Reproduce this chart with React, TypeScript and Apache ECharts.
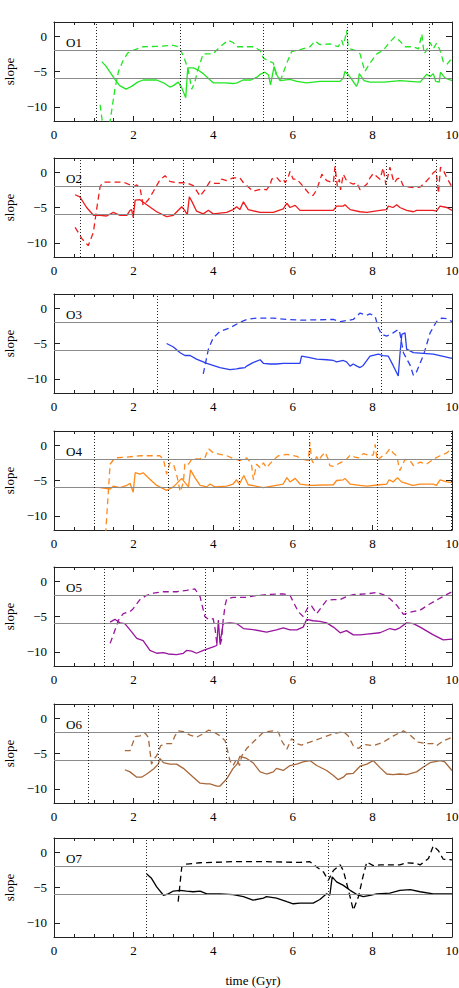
import React, { useEffect, useRef } from "react";
import * as echarts from "echarts";

type P = [number, number];

const panelNames = ["O1", "O2", "O3", "O4", "O5", "O6", "O7"];
const panelColors = ["#22e622", "#ee1c1c", "#2a3ff0", "#ff8a1a", "#99159e", "#a8683a", "#000000"];
const yTickValues = [-10, -5, 0];
const refLevels = [-2, -6];

const o1Solid: P[] = [[1.2,-3.6],[1.3,-4.2],[1.42,-5.2],[1.53,-6.1],[1.65,-7.0],[1.81,-7.5],[1.95,-7.1],[2.1,-6.5],[2.24,-6.2],[2.58,-6.2],[2.75,-6.6],[2.91,-7.2],[3.0,-7.0],[3.12,-6.5],[3.2,-7.2],[3.31,-8.7],[3.36,-4.5],[3.5,-4.5],[3.62,-4.8],[3.75,-5.3],[3.88,-6.0],[4.0,-6.6],[4.3,-6.6],[4.5,-6.7],[4.6,-6.6],[4.75,-6.2],[4.95,-6.2],[5.1,-5.8],[5.18,-5.4],[5.3,-5.1],[5.39,-5.5],[5.44,-6.9],[5.53,-4.3],[5.6,-5.5],[5.68,-6.3],[5.93,-6.1],[6.1,-6.4],[6.35,-6.6],[6.68,-6.4],[7.19,-6.4],[7.27,-5.9],[7.31,-5.0],[7.4,-5.5],[7.48,-6.1],[7.6,-7.1],[7.64,-6.6],[7.67,-5.3],[7.79,-6.3],[7.94,-6.5],[8.3,-6.5],[8.69,-6.3],[9.2,-6.5],[9.36,-5.4],[9.45,-5.7],[9.53,-5.3],[9.59,-6.4],[9.68,-6.5],[9.71,-5.1],[9.82,-5.9],[10,-6.3]];
const o1Dashed: P[] = [[1.16,-9.7],[1.3,-16],[1.41,-12],[1.53,-7.5],[1.62,-5.0],[1.74,-3.4],[1.85,-2.4],[1.99,-2.0],[2.24,-1.5],[2.58,-1.45],[3.0,-1.3],[3.12,-1.5],[3.2,-2.2],[3.29,-3.4],[3.37,-4.7],[3.46,-7.5],[3.54,-6.5],[3.6,-5.0],[3.67,-3.8],[3.75,-2.5],[4.0,-2.5],[4.17,-1.5],[4.38,-0.6],[4.5,-0.9],[4.59,-1.5],[5.0,-1.5],[5.18,-2.0],[5.26,-3.1],[5.43,-3.6],[5.51,-3.8],[5.59,-5.6],[5.7,-6.1],[5.85,-3.8],[5.97,-2.2],[6.18,-1.9],[6.43,-1.5],[6.56,-0.7],[6.68,-1.2],[6.93,-1.1],[7.14,-1.5],[7.23,-0.6],[7.27,-1.3],[7.31,-0.4],[7.35,0.8],[7.39,-1.3],[7.44,-1.8],[7.56,-2.0],[7.69,-2.5],[7.81,-5.0],[7.94,-3.8],[8.11,-2.5],[8.27,-2.0],[8.4,-1.1],[8.56,-0.1],[8.69,-0.7],[8.82,-1.5],[9.03,-1.5],[9.16,-1.8],[9.24,0.3],[9.3,-2.5],[9.36,-2.0],[9.45,-0.9],[9.53,-1.8],[9.61,-1.0],[9.7,-2.0],[9.78,-3.6],[9.87,-4.0],[10,-3.1]];
const o1Events = [1.07, 3.17, 5.27, 7.36, 9.42];

const o2Solid: P[] = [[0.53,-3.2],[0.65,-3.5],[0.82,-5.0],[0.99,-6.1],[1.16,-6.1],[1.32,-6.2],[1.49,-5.7],[1.66,-6.1],[1.83,-6.1],[1.91,-5.4],[1.95,-5.3],[1.99,-6.4],[2.04,-3.95],[2.16,-3.9],[2.33,-4.6],[2.58,-5.6],[2.83,-6.3],[3.0,-6.1],[3.21,-4.9],[3.27,-5.3],[3.35,-6.0],[3.4,-3.5],[3.46,-4.1],[3.58,-5.5],[3.75,-5.9],[3.88,-5.4],[4.0,-5.9],[4.34,-5.7],[4.5,-5.3],[4.59,-4.9],[4.67,-5.3],[4.76,-4.2],[4.88,-5.3],[5.18,-5.7],[5.51,-5.7],[5.76,-5.2],[5.85,-4.4],[5.93,-5.0],[6.06,-4.7],[6.18,-5.4],[7.02,-5.4],[7.1,-4.8],[7.27,-4.8],[7.31,-4.6],[7.44,-5.3],[7.69,-5.6],[7.86,-5.7],[8.19,-5.4],[8.36,-5.3],[8.4,-4.8],[8.52,-5.0],[8.61,-4.6],[8.69,-5.0],[8.86,-5.4],[9.03,-5.6],[9.11,-5.4],[9.53,-5.4],[9.61,-5.5],[9.7,-4.8],[9.87,-5.0],[10,-5.4]];
const o2Dashed: P[] = [[0.53,-7.8],[0.7,-9.4],[0.86,-10.4],[0.99,-8.5],[1.07,-5.3],[1.16,-2.0],[1.24,-1.4],[1.49,-1.4],[1.74,-1.4],[1.91,-1.8],[1.99,-2.1],[2.08,-1.8],[2.16,-2.2],[2.24,-4.7],[2.37,-3.9],[2.5,-2.7],[2.66,-1.1],[2.79,-0.5],[2.91,-1.3],[3.08,-1.5],[3.33,-1.5],[3.5,-1.9],[3.67,-3.4],[3.79,-2.5],[3.92,-1.3],[4.04,-1.6],[4.17,-1.6],[4.21,-1.0],[4.34,-1.2],[4.5,-0.8],[4.67,-0.8],[4.76,-1.5],[5.0,-2.7],[5.22,-2.4],[5.34,-2.5],[5.43,-1.8],[5.47,-1.0],[5.59,-0.7],[5.68,-1.3],[5.76,-1.0],[5.81,-1.5],[5.89,-0.6],[5.93,0.1],[6.01,-1.0],[6.1,-1.0],[6.26,-2.0],[6.43,-3.2],[6.51,-3.3],[6.6,-2.5],[6.73,-0.3],[6.85,-1.2],[7.02,-1.5],[7.06,0.8],[7.12,-2.0],[7.17,-1.0],[7.2,-2.5],[7.27,-0.3],[7.35,-1.2],[7.44,-1.5],[7.52,-1.7],[7.61,-1.5],[7.69,-2.5],[7.86,-1.7],[7.94,-0.8],[8.02,-0.2],[8.19,-1.0],[8.27,0.6],[8.34,-1.8],[8.4,-0.3],[8.44,0.7],[8.52,-1.0],[8.56,-1.5],[8.61,-1.0],[8.69,-0.8],[8.78,-2.0],[9.03,-2.2],[9.2,-2.1],[9.32,-1.5],[9.45,-0.7],[9.53,-0.1],[9.6,0.2],[9.66,-3.0],[9.71,0.7],[9.78,0.3],[9.87,-0.8],[10,-2.1]];
const o2Events = [0.66, 1.98, 3.26, 4.5, 5.81, 7.07, 8.36, 9.61];

const o3Solid: P[] = [[2.83,-5.0],[3.0,-5.5],[3.17,-6.3],[3.29,-6.7],[3.42,-6.7],[3.58,-7.2],[3.84,-7.8],[4.17,-8.4],[4.42,-8.7],[4.59,-8.6],[4.67,-8.5],[4.8,-8.4],[4.84,-8.2],[5.0,-7.7],[5.18,-7.3],[5.26,-7.8],[5.43,-7.9],[5.59,-7.9],[5.76,-7.8],[5.93,-7.8],[6.18,-7.8],[6.22,-6.8],[6.43,-7.0],[6.6,-7.2],[6.85,-7.3],[7.02,-7.4],[7.1,-7.6],[7.27,-7.4],[7.35,-7.6],[7.44,-8.2],[7.52,-7.9],[7.61,-8.2],[7.69,-8.4],[7.77,-8.1],[7.94,-6.8],[8.15,-6.5],[8.27,-6.7],[8.4,-6.8],[8.52,-8.1],[8.65,-9.6],[8.69,-6.7],[8.74,-3.7],[8.82,-3.5],[8.86,-5.8],[9.03,-6.3],[9.53,-6.5],[10,-7.1]];
const o3Dashed: P[] = [[3.75,-9.3],[3.88,-5.8],[4.0,-4.2],[4.17,-3.3],[4.42,-2.8],[4.67,-2.0],[4.84,-1.6],[5.09,-1.4],[5.51,-1.4],[5.85,-1.6],[6.18,-1.7],[7.02,-1.6],[7.19,-1.9],[7.52,-1.6],[7.69,-0.7],[7.86,-1.0],[7.94,-0.8],[8.07,-1.2],[8.15,-2.8],[8.23,-3.7],[8.36,-3.95],[8.52,-3.5],[8.65,-3.0],[8.69,-3.5],[8.78,-6.3],[8.95,-8.1],[9.03,-9.5],[9.11,-9.0],[9.28,-6.7],[9.45,-3.5],[9.61,-1.9],[9.74,-1.4],[9.87,-1.5],[10,-1.9]];
const o3Events = [2.6, 8.21];

const o4Solid: P[] = [[1.16,-6.0],[1.41,-6.2],[1.49,-5.8],[1.66,-6.0],[1.83,-5.7],[1.91,-5.4],[1.99,-6.65],[2.04,-3.9],[2.16,-4.1],[2.24,-3.9],[2.37,-4.6],[2.58,-5.7],[2.83,-6.4],[3.0,-5.9],[3.21,-4.7],[3.29,-5.3],[3.38,-5.9],[3.43,-3.5],[3.54,-4.6],[3.67,-5.7],[3.84,-5.9],[3.92,-5.5],[4.04,-5.9],[4.34,-5.8],[4.5,-5.5],[4.59,-4.9],[4.66,-5.5],[4.77,-4.3],[4.88,-5.6],[5.26,-6.0],[5.76,-5.5],[5.85,-4.6],[5.93,-5.2],[6.06,-4.7],[6.18,-5.5],[6.43,-5.7],[7.02,-5.6],[7.1,-5.0],[7.27,-4.9],[7.31,-4.7],[7.44,-5.5],[7.69,-5.7],[7.86,-5.8],[8.19,-5.6],[8.36,-5.5],[8.42,-4.9],[8.52,-5.2],[8.63,-4.6],[8.73,-5.2],[8.95,-5.6],[9.03,-5.7],[9.2,-5.5],[9.53,-5.5],[9.61,-5.7],[9.7,-4.9],[9.87,-5.2],[10,-5.3]];
const o4Dashed: P[] = [[1.28,-14],[1.41,-2.7],[1.53,-1.8],[1.83,-1.7],[2.16,-1.5],[2.66,-1.5],[2.75,-2.0],[2.83,-4.1],[2.91,-2.5],[3.0,-2.7],[3.08,-4.1],[3.17,-6.6],[3.25,-5.3],[3.29,-2.5],[3.38,-2.7],[3.46,-2.0],[3.67,-1.9],[3.79,-1.8],[3.88,-0.5],[4.0,-1.1],[4.17,-1.3],[4.34,-1.5],[4.5,-1.9],[4.67,-2.2],[4.84,-1.8],[4.96,-2.6],[5.01,-4.9],[5.09,-2.7],[5.18,-3.2],[5.26,-2.5],[5.34,-3.2],[5.51,-2.1],[5.64,-1.5],[5.85,-1.3],[6.1,-1.6],[6.26,-2.0],[6.39,-2.2],[6.43,0.4],[6.47,-2.0],[6.51,-2.5],[6.6,-1.6],[6.64,-2.2],[6.73,-1.5],[6.81,-1.0],[6.89,-2.0],[6.93,-2.9],[7.02,-3.0],[7.19,-2.5],[7.35,-2.0],[7.44,-1.4],[7.56,-1.7],[7.65,-1.8],[7.77,-1.2],[7.9,-1.4],[8.02,-1.4],[8.07,0.1],[8.12,-2.2],[8.19,-1.8],[8.36,-1.1],[8.44,-0.5],[8.52,-1.1],[8.61,-1.5],[8.69,-3.6],[8.82,-2.0],[8.95,-2.2],[9.03,-2.9],[9.2,-2.4],[9.36,-2.7],[9.53,-2.0],[9.7,-1.5],[9.87,-1.1],[10,-0.4]];
const o4Events = [1.01, 2.86, 4.66, 6.42, 8.11, 9.97];

const o5Solid: P[] = [[1.41,-5.8],[1.53,-5.4],[1.66,-5.9],[1.78,-6.0],[1.91,-6.9],[2.08,-8.1],[2.24,-8.4],[2.41,-9.8],[2.58,-10.2],[2.75,-10.1],[2.87,-10.3],[3.08,-10.4],[3.25,-10.2],[3.33,-9.8],[3.46,-9.9],[3.58,-10.2],[3.75,-9.8],[4.0,-9.3],[4.09,-9.1],[4.13,-5.5],[4.17,-8.8],[4.25,-6.0],[4.42,-5.9],[4.59,-6.0],[4.76,-6.7],[5.0,-6.85],[5.34,-7.2],[5.59,-6.9],[5.76,-6.6],[5.93,-6.9],[6.1,-6.9],[6.26,-6.5],[6.35,-5.4],[6.51,-5.6],[6.68,-5.7],[6.85,-5.9],[7.02,-6.5],[7.19,-7.3],[7.35,-7.0],[7.52,-7.6],[7.69,-7.6],[7.86,-7.5],[8.19,-7.3],[8.44,-6.7],[8.57,-6.9],[8.69,-6.6],[8.86,-5.9],[9.03,-6.0],[9.2,-6.5],[9.53,-7.6],[9.78,-8.3],[10,-8.2]];
const o5Dashed: P[] = [[1.41,-8.8],[1.49,-7.6],[1.62,-5.5],[1.74,-4.6],[1.91,-4.3],[1.99,-3.9],[2.16,-2.6],[2.33,-2.0],[2.5,-1.7],[2.75,-1.5],[3.08,-1.5],[3.33,-1.3],[3.54,-1.1],[3.67,-2.2],[3.79,-5.0],[3.88,-5.4],[4.0,-5.3],[4.05,-6.85],[4.09,-8.8],[4.17,-9.0],[4.21,-8.3],[4.25,-5.5],[4.3,-3.4],[4.34,-2.5],[4.5,-2.3],[4.84,-2.3],[5.0,-2.1],[5.34,-1.9],[5.76,-1.8],[5.93,-2.0],[6.01,-2.9],[6.14,-4.35],[6.26,-5.0],[6.39,-3.6],[6.47,-3.5],[6.6,-4.6],[6.73,-3.6],[6.85,-2.7],[7.02,-2.6],[7.19,-2.6],[7.35,-2.2],[7.52,-1.9],[7.86,-1.8],[8.11,-1.6],[8.27,-1.9],[8.44,-2.5],[8.61,-3.4],[8.78,-4.7],[8.95,-4.4],[9.2,-4.1],[9.45,-3.2],[9.7,-2.4],[10,-1.5]];
const o5Events = [1.27, 3.79, 6.37, 8.82];

const o6Solid: P[] = [[1.78,-7.3],[1.91,-7.6],[2.08,-8.35],[2.2,-8.35],[2.33,-7.9],[2.5,-7.2],[2.62,-6.5],[2.66,-5.7],[2.75,-6.3],[2.91,-6.5],[3.08,-6.5],[3.25,-7.1],[3.5,-8.35],[3.67,-9.2],[3.84,-9.3],[3.92,-9.3],[4.09,-9.6],[4.17,-9.6],[4.34,-8.6],[4.5,-7.1],[4.6,-6.5],[4.67,-5.4],[4.84,-5.7],[5.0,-6.3],[5.18,-7.6],[5.34,-7.9],[5.51,-7.6],[5.59,-7.1],[5.76,-7.4],[5.93,-6.7],[6.1,-6.5],[6.26,-6.2],[6.43,-6.0],[6.6,-6.7],[6.85,-7.4],[7.02,-8.1],[7.14,-8.7],[7.27,-8.35],[7.35,-7.9],[7.52,-7.8],[7.69,-6.8],[7.86,-6.5],[8.02,-6.0],[8.19,-7.0],[8.36,-7.9],[8.52,-8.0],[8.69,-7.9],[8.86,-8.0],[9.11,-7.6],[9.28,-6.9],[9.45,-6.3],[9.61,-6.1],[9.7,-6.0],[9.82,-6.2],[10,-7.4]];
const o6Dashed: P[] = [[1.78,-4.6],[1.91,-4.6],[2.04,-2.6],[2.16,-2.5],[2.29,-2.1],[2.37,-2.7],[2.45,-6.5],[2.51,-5.8],[2.58,-5.3],[2.68,-3.9],[2.79,-3.6],[2.87,-3.6],[2.96,-3.6],[3.04,-2.5],[3.12,-1.8],[3.25,-1.9],[3.42,-2.4],[3.58,-2.7],[3.75,-2.2],[3.88,-1.7],[4.0,-1.9],[4.17,-2.5],[4.3,-3.2],[4.42,-6.0],[4.5,-6.7],[4.59,-5.8],[4.66,-6.7],[4.72,-5.3],[4.84,-4.3],[5.0,-3.4],[5.26,-2.0],[5.51,-1.8],[5.64,-2.0],[5.72,-3.2],[5.85,-4.4],[5.97,-2.9],[6.1,-3.6],[6.22,-3.8],[6.43,-3.4],[6.77,-2.7],[7.02,-2.2],[7.27,-1.9],[7.39,-2.5],[7.52,-3.9],[7.65,-4.3],[7.77,-3.7],[8.02,-3.9],[8.27,-3.4],[8.53,-2.5],[8.78,-1.8],[8.95,-2.4],[9.15,-3.4],[9.36,-3.6],[9.53,-3.6],[9.61,-3.9],[9.78,-3.2],[10,-2.7]];
const o6Events = [0.86, 2.62, 4.32, 6.01, 7.73, 9.31];

const o7Solid: P[] = [[2.33,-3.1],[2.45,-3.7],[2.58,-4.9],[2.75,-6.1],[2.87,-5.9],[3.0,-5.5],[3.17,-5.4],[3.33,-5.5],[3.5,-5.6],[3.67,-5.5],[3.84,-5.9],[4.17,-5.9],[4.5,-6.0],[4.76,-6.3],[5.0,-6.8],[5.26,-6.5],[5.34,-6.3],[5.59,-6.5],[5.85,-7.0],[6.01,-7.3],[6.18,-7.2],[6.51,-7.2],[6.68,-6.7],[6.85,-5.9],[6.93,-6.1],[6.99,-3.5],[7.1,-4.2],[7.27,-4.7],[7.44,-5.4],[7.61,-6.0],[7.77,-6.3],[7.94,-6.1],[8.11,-5.9],[8.44,-5.8],[8.69,-5.4],[8.95,-5.3],[9.2,-5.6],[9.53,-5.9],[10,-5.9]];
const o7Dashed: P[] = [[3.12,-7.0],[3.21,-2.1],[3.33,-1.7],[3.67,-1.5],[4.5,-1.35],[5.34,-1.35],[6.18,-1.45],[6.43,-1.35],[6.6,-2.1],[6.77,-2.8],[6.89,-4.0],[7.02,-2.6],[7.19,-1.8],[7.27,-2.6],[7.39,-5.2],[7.52,-8.2],[7.65,-6.3],[7.77,-3.3],[7.86,-1.4],[8.02,-1.9],[8.19,-1.8],[8.69,-1.8],[8.86,-1.5],[9.11,-1.6],[9.2,-1.8],[9.41,-0.9],[9.53,0.9],[9.66,0.2],[9.78,-1.0],[10,-1.1]];
const o7Events = [2.31, 6.88];

const solidSets = [o1Solid, o2Solid, o3Solid, o4Solid, o5Solid, o6Solid, o7Solid];
const dashedSets = [o1Dashed, o2Dashed, o3Dashed, o4Dashed, o5Dashed, o6Dashed, o7Dashed];
const eventSets = [o1Events, o2Events, o3Events, o4Events, o5Events, o6Events, o7Events];

const FONT = "'Liberation Serif', 'Times New Roman', serif";
const panelTops = [22, 158, 294, 431, 567, 704, 838];
const PANEL_H = 99;
const AXIS_COLOR = "#222";

function fmtY(v: number): string {
  return v < 0 ? "\u2212" + Math.abs(v) : String(v);
}

function buildOption() {
  const grid: any[] = [];
  const xAxis: any[] = [];
  const yAxis: any[] = [];
  const series: any[] = [];
  const graphic: any[] = [];
  panelNames.forEach((name, i) => {
    grid.push({ left: 54, right: 7, top: panelTops[i], height: PANEL_H, containLabel: false, outerBoundsMode: "none" });
    const isLast = i === panelNames.length - 1;
    const xBase = {
      type: "value", gridIndex: i, min: 0, max: 10, interval: 2,
      axisLine: { show: true, onZero: false, lineStyle: { color: AXIS_COLOR, width: 1 } },
      axisTick: { show: true, inside: true, length: 5, lineStyle: { color: AXIS_COLOR } },
      minorTick: { show: true, splitNumber: 4, length: 3, lineStyle: { color: AXIS_COLOR } },
      splitLine: { show: false },
    };
    xAxis.push({
      ...xBase, position: "bottom",
      axisLabel: { show: true, fontFamily: FONT, fontSize: 13, color: "#000", margin: 7 },
      name: isLast ? "time (Gyr)" : "",
      nameLocation: "middle", nameGap: 37,
      nameTextStyle: { fontFamily: FONT, fontSize: 13, color: "#000" },
    });
    xAxis.push({ ...xBase, position: "top", axisLabel: { show: false } });
    const yBase = {
      type: "value", gridIndex: i, min: -12, max: 2,
      axisLine: { show: true, onZero: false, lineStyle: { color: AXIS_COLOR, width: 1 } },
      axisTick: { show: true, inside: true, length: 6, customValues: yTickValues, lineStyle: { color: AXIS_COLOR } },
      splitLine: { show: false },
    };
    yAxis.push({
      ...yBase, position: "left",
      axisLabel: { show: true, customValues: yTickValues, formatter: fmtY, fontFamily: FONT, fontSize: 13, color: "#000", margin: 7 },
      name: "slope", nameLocation: "middle", nameGap: 38, nameRotate: 90,
      nameTextStyle: { fontFamily: FONT, fontSize: 13, color: "#000" },
    });
    yAxis.push({ ...yBase, position: "right", axisLabel: { show: false } });

    const color = panelColors[i];
    const xi = i * 2;
    const yi = i * 2;
    series.push({
      type: "line", xAxisIndex: xi, yAxisIndex: yi, data: [], z: 1,
      markLine: {
        silent: true, symbol: ["none", "none"], label: { show: false }, animation: false,
        data: [
          ...refLevels.map((v) => ({ yAxis: v, lineStyle: { color: "#8a8a8a", type: "solid", width: 1.2 } })),
          ...eventSets[i].map((v) => ({ xAxis: v, lineStyle: { color: "#222", type: [1, 2], width: 1 } })),
        ],
      },
    });
    series.push({
      type: "line", xAxisIndex: xi, yAxisIndex: yi, data: solidSets[i], z: 3,
      showSymbol: false, symbol: "none", clip: true,
      lineStyle: { color, width: 1.3, type: "solid" },
    });
    series.push({
      type: "line", xAxisIndex: xi, yAxisIndex: yi, data: dashedSets[i], z: 3,
      showSymbol: false, symbol: "none", clip: true,
      lineStyle: { color, width: 1.3, type: [6, 4] },
    });
    graphic.push({
      type: "text", left: 66, top: panelTops[i] + 14,
      style: { text: name, fontFamily: FONT, fontSize: 13, fill: "#000" },
    });
  });
  return { animation: false, backgroundColor: "#fff", grid, xAxis, yAxis, series, graphic };
}

export default function App() {
  const ref = useRef<HTMLDivElement>(null);
  useEffect(() => {
    if (!ref.current) return;
    const chart = echarts.init(ref.current, undefined, { renderer: "svg" });
    chart.setOption(buildOption() as any);
    return () => chart.dispose();
  }, []);
  return <div ref={ref} style={{ position: "fixed", left: 0, top: 0, width: 459, height: 988, background: "#fff" }} />;
}
